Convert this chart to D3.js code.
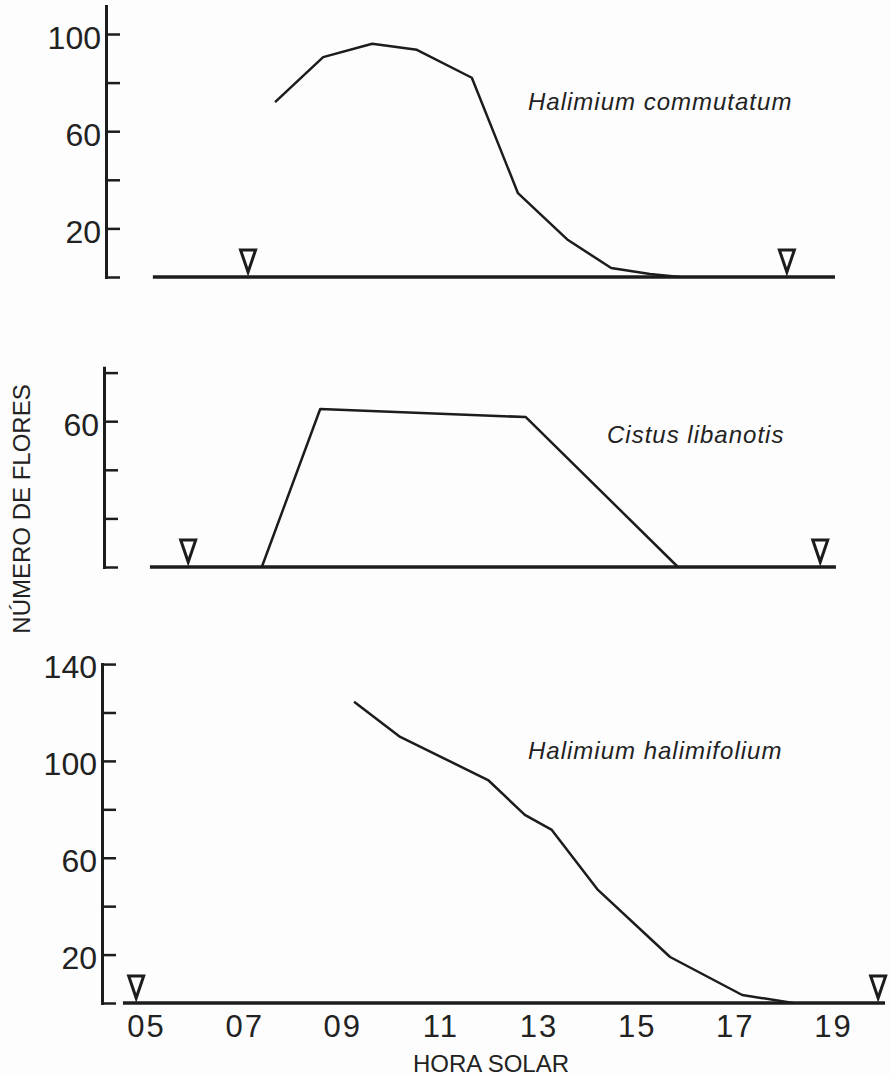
<!DOCTYPE html>
<html>
<head>
<meta charset="utf-8">
<script src="https://cdn.jsdelivr.net/npm/d3@7"></script>
<style>
  html, body { margin: 0; padding: 0; background: #fdfdfd; }
  svg { display: block; }
  text { fill: #222; font-family: "Liberation Sans", Arial, "Noto Sans", sans-serif; }
</style>
</head>
<body>
<svg id="chart" width="890" height="1076"></svg>
<script>
// ---------------- DATA ----------------
const xTickValues = [5, 7, 9, 11, 13, 15, 17, 19];
const xTickLabels = ["05", "07", "09", "11", "13", "15", "17", "19"];

// Halimium commutatum
const hours1   = [7.63, 8.61, 9.61, 10.52, 11.64, 12.58, 13.60, 14.48, 15.27, 15.88];
const flowers1 = [72.0, 90.5, 96.0, 93.5, 82.0, 34.5, 15.2, 3.7, 1.2, 0];
const sun1     = [7.08, 18.06];          // sunrise / sunset markers
const base1    = [5.14, 19.04];          // extent of the baseline (hours)
const yTicks1  = [0, 20, 40, 60, 80, 100];
const yLabels1 = [20, 60, 100];
const yMax1    = 111.5;

// Cistus libanotis
const hours2   = [7.36, 8.55, 12.74, 15.84];
const flowers2 = [0, 65.0, 61.7, 0];
const sun2     = [5.86, 18.74];
const base2    = [5.08, 19.06];
const yTicks2  = [0, 20, 40, 60, 80];
const yLabels2 = [60];
const yMax2    = 82;

// Halimium halimifolium
const hours3   = [9.24, 10.18, 11.97, 12.72, 13.27, 14.21, 15.68, 17.15, 18.19];
const flowers3 = [124.4, 109.9, 92.1, 77.7, 71.5, 46.7, 19.0, 3.3, 0];
const sun3     = [4.80, 19.92];
const base3    = [4.53, 20.06];
const yTicks3  = [0, 20, 40, 60, 80, 100, 120, 140];
const yLabels3 = [20, 60, 100, 140];
const yMax3    = 140;

const speciesNames = ["Halimium commutatum", "Cistus libanotis", "Halimium halimifolium"];
const yTitle = "NÚMERO DE FLORES";
const xTitle = "HORA SOLAR";

// ---------------- LAYOUT ----------------
const ink = "#1c1c1c";
const svg = d3.select("#chart");
const x = d3.scaleLinear().domain([5, 19]).range([146, 833]);

const panels = [
  { hours: hours1, vals: flowers1, sun: sun1, base: base1, ticks: yTicks1, labels: yLabels1, ymax: yMax1,
    axisX: 106, y0: 277, pxPerUnit: 2.43, name: speciesNames[0], nameX: 528, nameY: 110, labelDy: "0.45em" },
  { hours: hours2, vals: flowers2, sun: sun2, base: base2, ticks: yTicks2, labels: yLabels2, ymax: yMax2,
    axisX: 104, y0: 567, pxPerUnit: 2.43, name: speciesNames[1], nameX: 607, nameY: 443, labelDy: "0.45em" },
  { hours: hours3, vals: flowers3, sun: sun3, base: base3, ticks: yTicks3, labels: yLabels3, ymax: yMax3,
    axisX: 102, y0: 1003, pxPerUnit: 2.421, name: speciesNames[2], nameX: 528, nameY: 759, labelDy: "0.42em" }
];

panels.forEach(p => {
  const y = d3.scaleLinear().domain([0, p.ymax]).range([p.y0, p.y0 - p.ymax * p.pxPerUnit]);
  const g = svg.append("g");

  // y axis: ticks pointing right, labels on the left
  const yAxis = d3.axisLeft(y)
    .tickValues(p.ticks)
    .tickSizeInner(-14)
    .tickSizeOuter(0)
    .tickPadding(5)
    .tickFormat(d => p.labels.includes(d) ? String(d) : "");
  const ag = g.append("g")
    .attr("transform", `translate(${p.axisX},0)`)
    .call(yAxis);
  ag.select(".domain").attr("stroke", ink).attr("stroke-width", 3).attr("stroke-linecap", "square");
  ag.selectAll(".tick line").attr("stroke", ink).attr("stroke-width", 2.5);
  ag.selectAll(".tick text")
    .attr("fill", ink)
    .attr("dy", p.labelDy)
    .style("font-size", "32px")
    .style("font-family", "'Liberation Sans', Arial, sans-serif");

  // baseline
  g.append("line")
    .attr("x1", x(p.base[0])).attr("x2", x(p.base[1]))
    .attr("y1", y(0)).attr("y2", y(0))
    .attr("stroke", ink).attr("stroke-width", 3.5);

  // curve
  const pts = p.hours.map((h, i) => [h, p.vals[i]]);
  const line = d3.line().x(d => x(d[0])).y(d => y(d[1]));
  g.append("path")
    .datum(pts)
    .attr("d", line)
    .attr("fill", "none")
    .attr("stroke", ink)
    .attr("stroke-width", 2.5)
    .attr("stroke-linejoin", "round");

  // sunrise / sunset triangles
  g.selectAll("path.sun")
    .data(p.sun)
    .enter().append("path")
    .attr("class", "sun")
    .attr("d", d => {
      const cx = x(d), by = y(0);
      return `M${cx - 7.5},${by - 27} L${cx + 7.5},${by - 27} L${cx},${by - 5} Z`;
    })
    .attr("fill", "#fdfdfd")
    .attr("stroke", ink)
    .attr("stroke-width", 3)
    .attr("stroke-linejoin", "miter");

  // species name
  g.append("text")
    .attr("x", p.nameX).attr("y", p.nameY)
    .style("font-size", "24px")
    .style("font-style", "italic")
    .style("letter-spacing", "1px")
    .text(p.name);
});

// x axis labels (below bottom panel)
const xAxis = d3.axisBottom(x)
  .tickValues(xTickValues)
  .tickSize(0)
  .tickPadding(12)
  .tickFormat((d, i) => xTickLabels[i]);
const xg = svg.append("g").attr("transform", "translate(0,1003)").call(xAxis);
xg.select(".domain").remove();
xg.selectAll(".tick text")
  .attr("fill", ink)
  .style("font-size", "31px")
  .style("letter-spacing", "2px")
  .style("font-family", "'Liberation Sans', Arial, sans-serif");

// axis titles
svg.append("text")
  .attr("x", 491).attr("y", 1072)
  .attr("text-anchor", "middle")
  .style("font-size", "24px")
  .text(xTitle);

svg.append("text")
  .attr("transform", "translate(30,509) rotate(-90)")
  .attr("text-anchor", "middle")
  .style("font-size", "24px")
  .text(yTitle);
</script>
</body>
</html>
